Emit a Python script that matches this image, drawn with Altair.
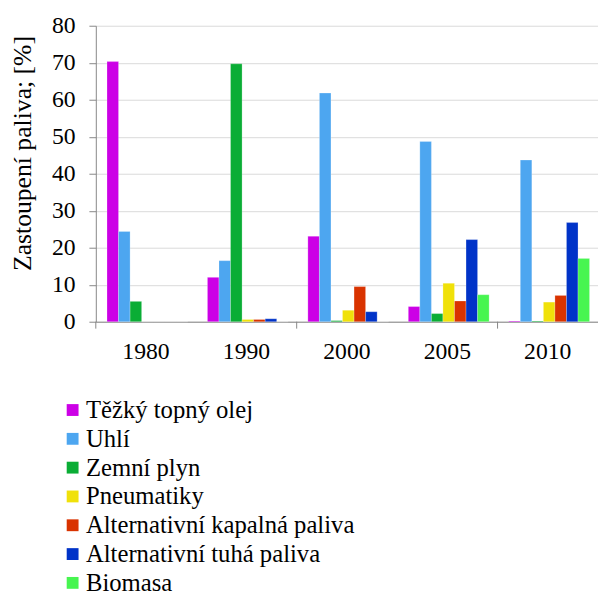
import altair as alt
import pandas as pd

years = ["1980", "1990", "2000", "2005", "2010"]
fuels = ["Těžký topný olej", "Uhlí", "Zemní plyn", "Pneumatiky",
         "Alternativní kapalná paliva", "Alternativní tuhá paliva", "Biomasa"]
colors = ["#CC00E6", "#4DA6F0", "#0AAD35", "#F0E10A", "#D93300", "#0033C8", "#47F550"]

tezky = [70.3, 12.0, 23.1, 4.1, 0.2]
uhli = [24.4, 16.5, 61.8, 48.7, 43.7]
zemni = [5.5, 69.7, 0.3, 2.2, 0.2]
pneu = [0.0, 0.6, 3.1, 10.4, 5.3]
kapalna = [0.0, 0.6, 9.5, 5.6, 7.1]
tuha = [0.0, 0.8, 2.7, 22.2, 26.8]
biomasa = [0.0, 0.0, 0.0, 7.3, 17.1]

tick_years = ["1980", "2000", "2010"]

series = [tezky, uhli, zemni, pneu, kapalna, tuha, biomasa]
rows = []
for f, vals in zip(fuels, series):
    for y, v in zip(years, vals):
        rows.append({"year": y, "fuel": f, "value": v})
df = pd.DataFrame(rows)
ticks_df = pd.DataFrame({"year": tick_years})

FONT = "Liberation Serif"

xscale = alt.Scale(domain=years, paddingInner=0, paddingOuter=0)

bars = alt.Chart(df).mark_bar(stroke="white", strokeWidth=0.4, strokeOpacity=0.6).encode(
    x=alt.X("year:N", scale=xscale, sort=years,
            axis=alt.Axis(title=None, ticks=False, labelAngle=0, labelFontSize=24,
                          labelFont=FONT, labelColor="black", labelPadding=18,
                          domainColor="#868686", grid=False)),
    xOffset=alt.XOffset("fuel:N", sort=fuels,
                        scale=alt.Scale(domain=fuels, paddingInner=0, paddingOuter=0.85,
                                        align=0.57)),
    y=alt.Y("value:Q", scale=alt.Scale(domain=[0, 80], nice=False),
            axis=alt.Axis(title="Zastoupení paliva; [%]", values=list(range(0, 81, 10)),
                          titleFont=FONT, titleFontSize=26, titleFontWeight="normal",
                          titleColor="black", titleX=-74, titleY=129,
                          titleBaseline="middle", titleAlign="center", titleAngle=270,
                          labelFont=FONT, labelFontSize=24, labelColor="black",
                          labelPadding=14, tickSize=7, tickColor="#868686",
                          domainColor="#868686", gridColor="#D9D9D9")),
    color=alt.Color("fuel:N", sort=fuels, scale=alt.Scale(domain=fuels, range=colors),
                    legend=alt.Legend(title=None, orient="none", legendX=-36, legendY=377,
                                      padding=0, direction="vertical", symbolType="square",
                                      symbolSize=144, symbolStrokeWidth=0,
                                      labelFont=FONT, labelFontSize=25, labelColor="black",
                                      labelOffset=1, rowPadding=3.2, labelLimit=450)),
)

tick_rules = alt.Chart(ticks_df).mark_rule(color="#868686", strokeWidth=1).encode(
    x=alt.X("year:N", scale=xscale, bandPosition=0),
    y=alt.value(300),
    y2=alt.value(307),
)

chart = alt.layer(bars, tick_rules).properties(
    width=509, height=300,
    autosize=alt.AutoSizeParams(type="none"),
    padding={"left": 89, "top": 14, "right": 0, "bottom": 272},
).configure(font=FONT).configure_view(stroke=None).configure_axis(domainWidth=1)

chart.save("out.html", embed_options={"renderer": "svg", "actions": False})
